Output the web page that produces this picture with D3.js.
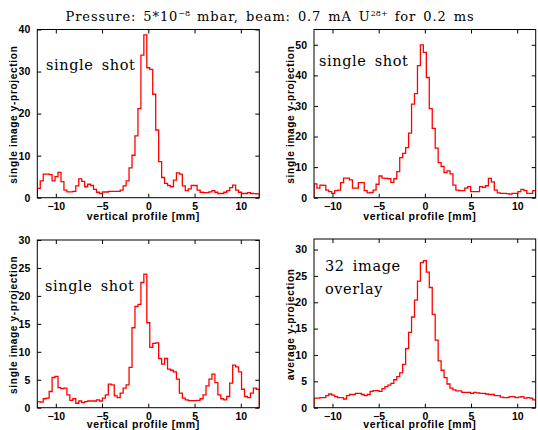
<!DOCTYPE html>
<html>
<head>
<meta charset="utf-8">
<script src="https://cdn.jsdelivr.net/npm/d3@7"></script>
<style>
  body { margin: 0; background: #fff; }
  svg { display: block; }
</style>
</head>
<body>
<script>
const width = 538;
const height = 430;

// histogram bins: 75 bins of 0.32 mm starting at -12 mm
const binStart = -12;
const binWidth = 0.32;

const shot1 = [2.2, 4.0, 5.6, 5.6, 5.5, 4.0, 5.0, 6.0, 3.8, 1.8,
  1.4, 1.4, 1.5, 2.8, 4.5, 3.9, 2.6, 3.2, 2.9, 2.0,
  1.3, 1.0, 1.35, 1.35, 1.5, 1.5, 1.5, 1.5, 1.8, 2.8,
  4.0, 7.1, 10.1, 14.7, 21.2, 33.9, 38.7, 30.9, 30.5, 24.6,
  16.1, 8.6, 4.8, 3.4, 2.9, 2.6, 4.2, 5.9, 5.6, 2.8,
  1.7, 2.1, 2.9, 2.9, 1.8, 1.3, 1.2, 1.2, 1.4, 1.7,
  1.3, 1.0, 1.0, 1.3, 1.7, 2.4, 3.0, 1.8, 1.3, 1.0,
  1.0, 1.2, 1.0, 0.95, 0.9];

const shot2 = [4.5, 3.1, 4.1, 4.0, 2.5, 2.0, 1.4, 2.3, 2.5, 4.9,
  6.4, 6.4, 5.8, 3.1, 3.1, 4.9, 4.9, 2.3, 1.6, 1.7,
  2.5, 4.4, 7.1, 6.4, 6.3, 6.2, 5.0, 6.2, 8.5, 13.1,
  14.5, 16.4, 21.1, 30.6, 34.0, 43.2, 50.0, 47.5, 39.3, 29.1,
  22.7, 16.2, 11.5, 10.2, 8.2, 8.8, 7.8, 4.1, 2.5, 2.3,
  2.3, 3.1, 3.6, 2.0, 2.0, 2.0, 3.6, 3.4, 3.9, 6.3,
  5.2, 2.5, 1.6, 1.4, 1.4, 1.3, 1.2, 1.4, 1.4, 2.0,
  2.7, 2.3, 1.4, 1.4, 2.3];

const shot3 = [1.1, 1.0, 1.6, 1.7, 2.9, 5.4, 5.6, 3.6, 3.4, 3.5,
  2.3, 1.3, 1.6, 0.8, 1.2, 0.9, 1.1, 1.2, 1.2, 1.2,
  1.4, 1.2, 1.7, 2.3, 4.2, 4.1, 2.1, 1.8, 2.6, 3.5,
  4.1, 7.2, 14.3, 18.1, 18.5, 22.4, 23.9, 15.2, 10.8, 11.5,
  11.6, 8.8, 7.8, 8.8, 6.9, 6.7, 6.4, 5.1, 2.6, 1.7,
  1.4, 1.25, 1.25, 1.25, 1.3, 1.6, 2.3, 3.9, 5.1, 6.0,
  4.5, 2.3, 1.6, 1.4, 2.0, 4.4, 7.6, 7.3, 6.4, 3.3,
  2.0, 1.8, 2.6, 3.5, 3.3];

const overlay = [1.8, 1.8, 1.9, 1.9, 2.3, 2.6, 2.4, 2.1, 1.9, 1.9,
  1.65, 2.3, 2.5, 2.5, 2.7, 2.7, 2.5, 2.3, 2.5, 3.1,
  3.25, 3.25, 3.1, 3.6, 4.0, 4.3, 4.6, 5.3, 5.9, 6.6,
  8.2, 11.2, 14.3, 17.2, 20.4, 24.0, 27.5, 27.9, 25.7, 22.8,
  17.7, 12.8, 8.9, 7.1, 5.7, 4.5, 3.7, 3.4, 3.2, 3.2,
  2.9, 2.9, 2.9, 2.7, 2.9, 2.8, 2.7, 2.7, 2.6, 2.5,
  2.5, 2.3, 2.3, 2.0, 1.9, 1.9, 2.1, 2.1, 1.9, 2.0,
  2.1, 1.8, 1.9, 1.8, 1.5];

const xTicks = [-10, -5, 0, 5, 10];
const yMaxes = [40, 55, 30, 32];
const yTicks = [[0, 10, 20, 30, 40], [0, 10, 20, 30, 40, 50], [0, 5, 10, 15, 20, 25, 30], [0, 5, 10, 15, 20, 25, 30]];
const yLabels = ["single image y-projection", "single image y-projection", "single image y-projection", "average y-projection"];
const notes = [["single shot"], ["single shot"], ["single shot"], ["32 image", "overlay"]];
const series = [shot1, shot2, shot3, overlay];

// frame boxes (left, top, right, bottom) in pixels
const boxes = [
  [37.3, 29.5, 259.3, 197.7],
  [314, 29.5, 535.7, 197.7],
  [37.3, 240, 259.3, 407.7],
  [314, 239, 535.7, 407.7]
];
const noteAt = [[46, 70], [319, 66], [45, 291], [325, 271]];

const svg = d3.select("body").append("svg")
    .attr("width", width)
    .attr("height", height);

// title with superscripts
const title = svg.append("text")
    .attr("x", 270).attr("y", 21)
    .attr("text-anchor", "middle")
    .style("font-family", "'DejaVu Serif'")
    .style("font-size", "13px")
    .style("letter-spacing", "0.9px")
    .style("word-spacing", "2px")
    .attr("fill", "#000");
title.append("tspan").text("Pressure: 5*10");
title.append("tspan").attr("dy", -5).style("font-size", "8px").style("letter-spacing", "0px").text("\u22128");
title.append("tspan").attr("dy", 5).text(" mbar, beam: 0.7 mA U");
title.append("tspan").attr("dy", -5).style("font-size", "8px").style("letter-spacing", "0px").text("28+");
title.append("tspan").attr("dy", 5).text(" for 0.2 ms");

series.forEach(function (vals, i) {
  const [l, t, r, b] = boxes[i];
  const x = d3.scaleLinear().domain([-12, 12]).range([l, r]);
  const y = d3.scaleLinear().domain([0, yMaxes[i]]).range([b, t]);
  const g = svg.append("g");

  const clipId = "clip" + i;
  svg.append("clipPath").attr("id", clipId)
    .append("rect").attr("x", l).attr("y", t).attr("width", r - l).attr("height", b - t);

  // step histogram points
  const pts = [[binStart, 0]];
  vals.forEach(function (v, k) { pts.push([binStart + k * binWidth, v]); });
  const end = binStart + vals.length * binWidth;
  pts.push([end, vals[vals.length - 1]]);
  pts.push([end, 0]);

  const line = d3.line()
      .x(d => x(d[0]))
      .y(d => y(d[1]))
      .curve(d3.curveStepAfter);

  g.append("path")
    .attr("d", line(pts))
    .attr("clip-path", "url(#" + clipId + ")")
    .attr("fill", "none")
    .attr("stroke", "#ff0000")
    .attr("stroke-width", 1.3);

  // axes, ticks pointing inward
  const fmt = d3.format("d");
  const bottom = g.append("g").attr("transform", "translate(0," + b + ")")
    .call(d3.axisBottom(x).tickValues(xTicks).tickSizeInner(-4).tickSizeOuter(0).tickPadding(5).tickFormat(d => d < 0 ? "\u2212" + Math.abs(d) : fmt(d)));
  const top = g.append("g").attr("transform", "translate(0," + t + ")")
    .call(d3.axisTop(x).tickValues(xTicks).tickSizeInner(-4).tickSizeOuter(0).tickFormat(""));
  const left = g.append("g").attr("transform", "translate(" + l + ",0)")
    .call(d3.axisLeft(y).tickValues(yTicks[i]).tickSizeInner(-4).tickSizeOuter(0).tickPadding(7).tickFormat(fmt));
  const right = g.append("g").attr("transform", "translate(" + r + ",0)")
    .call(d3.axisRight(y).tickValues(yTicks[i]).tickSizeInner(-4).tickSizeOuter(0).tickFormat(""));

  [bottom, top, left, right].forEach(function (a) {
    a.select(".domain").remove();
    a.selectAll("line").attr("stroke", "#000").attr("stroke-width", 1);
    a.selectAll("text")
      .attr("fill", "#000")
      .style("font-family", "'Liberation Sans', Arial, sans-serif")
      .style("font-weight", "bold")
      .style("font-size", "10.5px");
  });

  g.append("rect")
    .attr("x", l).attr("y", t)
    .attr("width", r - l).attr("height", b - t)
    .attr("fill", "none")
    .attr("stroke", "#000")
    .attr("stroke-width", 1);

  // axis titles
  g.append("text")
    .attr("x", (l + r) / 2 - 5).attr("y", b + (i < 2 ? 22 : 20.5))
    .attr("text-anchor", "middle")
    .style("font-family", "'Liberation Sans', Arial, sans-serif")
    .style("font-weight", "bold")
    .style("font-size", "10.5px")
    .style("letter-spacing", "0.6px")
    .text("vertical profile [mm]");

  g.append("text")
    .attr("transform", "translate(" + (l - 20) + "," + ((t + b) / 2 + 1) + ") rotate(-90)")
    .attr("text-anchor", "middle")
    .style("font-family", "'Liberation Sans', Arial, sans-serif")
    .style("font-weight", "bold")
    .style("font-size", "10px")
    .style("letter-spacing", "0.7px")
    .text(yLabels[i]);

  // annotation
  notes[i].forEach(function (s, k) {
    g.append("text")
      .attr("x", noteAt[i][0]).attr("y", noteAt[i][1] + k * 23)
      .style("font-family", "'DejaVu Serif'")
      .style("font-size", "14.5px")
      .style("letter-spacing", "0.6px")
      .style("word-spacing", "3px")
      .text(s);
  });
});
</script>
</body>
</html>
